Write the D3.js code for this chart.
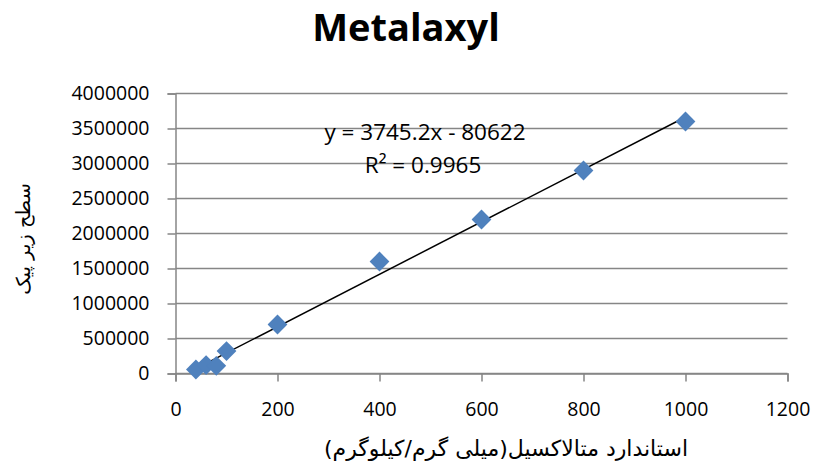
<!DOCTYPE html>
<html><head><meta charset="utf-8">
<script src="https://cdn.jsdelivr.net/npm/d3@7"></script>
<style>body{margin:0;background:#fff}</style>
</head><body>
<svg id="c" width="817" height="470"></svg>
<script>
const xValues = [40, 60, 80, 100, 200, 400, 600, 800, 1000];
const yValues = [57000, 120000, 110000, 320000, 700000, 1600000, 2200000, 2900000, 3600000];
const xTicks = [0, 200, 400, 600, 800, 1000, 1200];
const yTicks = [0, 500000, 1000000, 1500000, 2000000, 2500000, 3000000, 3500000, 4000000];
const slope = 3745.2, intercept = -80622;
const title = "Metalaxyl";
const eqText = "y = 3745.2x - 80622";
const r2Text = "R² = 0.9965";
const xLabel = "استاندارد متالاکسیل(میلی گرم/کیلوگرم)";
const yLabel = "سطح زیر پیک";

const svg = d3.select("#c");
const L = 175.5, R = 787.5, T = 93.5, B = 373.5;
const x = d3.scaleLinear().domain([0, 1200]).range([L, R]);
const y = d3.scaleLinear().domain([0, 4000000]).range([B, T]);
const grey = "#868686";
const font = "'Open Sans', sans-serif";

// gridlines
svg.append("g").selectAll("line").data(yTicks).join("line")
  .attr("x1", L).attr("x2", R).attr("y1", d => y(d)).attr("y2", d => y(d))
  .attr("stroke", grey).attr("stroke-width", 1.5);

// y axis
const ya = svg.append("g").attr("transform", `translate(${L},0)`)
  .call(d3.axisLeft(y).tickValues(yTicks).tickFormat(d3.format("d")).tickSize(8).tickPadding(18));
// x axis
const xa = svg.append("g").attr("transform", `translate(0,${B})`)
  .call(d3.axisBottom(x).tickValues(xTicks).tickFormat(d3.format("d")).tickSize(8).tickPadding(21));
[ya, xa].forEach(a => {
  a.selectAll("path,line").attr("stroke", grey).attr("stroke-width", 1.5);
  a.selectAll("text").attr("font-family", font).attr("font-size", 19.5).attr("fill", "#000");
});

// trendline
const x0 = d3.min(xValues), x1 = d3.max(xValues);
svg.append("line")
  .attr("x1", x(x0)).attr("y1", y(slope * x0 + intercept))
  .attr("x2", x(x1)).attr("y2", y(slope * x1 + intercept))
  .attr("stroke", "#000").attr("stroke-width", 1.5);

// markers
const s = 14;
svg.append("g").selectAll("rect").data(xValues.map((v, i) => [v, yValues[i]])).join("rect")
  .attr("x", -s / 2).attr("y", -s / 2).attr("width", s).attr("height", s)
  .attr("transform", d => `translate(${x(d[0])},${y(d[1])}) rotate(45)`)
  .attr("fill", "#4F81BD");

// equation
svg.append("text").attr("x", 425).attr("y", 140).attr("text-anchor", "middle")
  .attr("font-family", font).attr("font-size", 22.5).text(eqText);
svg.append("text").attr("x", 423).attr("y", 173).attr("text-anchor", "middle")
  .attr("font-family", font).attr("font-size", 22.5).text(r2Text);

// title
svg.append("text").attr("x", 406).attr("y", 41).attr("text-anchor", "middle")
  .attr("font-family", font).attr("font-weight", "bold").attr("font-size", 38).text(title);

// axis titles
svg.append("text").attr("x", 506).attr("y", 456).attr("text-anchor", "middle")
  .attr("font-family", "'DejaVu Sans', sans-serif").attr("font-size", 22).attr("direction", "rtl").text(xLabel);
svg.append("text").attr("transform", "translate(30,239) rotate(-90)").attr("text-anchor", "middle")
  .attr("font-family", "'DejaVu Sans', sans-serif").attr("font-size", 19.5).attr("direction", "rtl").text(yLabel);
</script>
</body></html>
